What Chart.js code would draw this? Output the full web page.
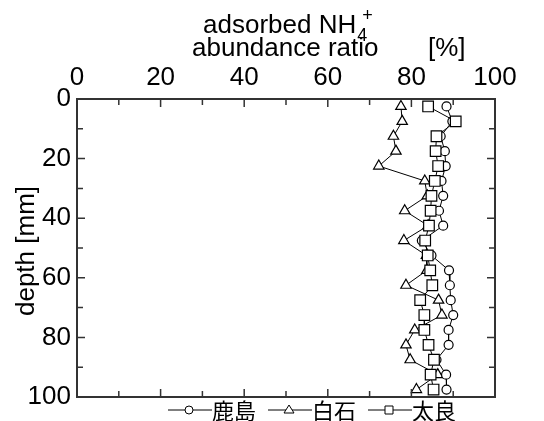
<!DOCTYPE html>
<html>
<head>
<meta charset="utf-8">
<script src="https://cdn.jsdelivr.net/npm/chart.js@4.4.1/dist/chart.umd.min.js"></script>
<style>
	body { margin: 0; background: #fff; }
	#wrap { width: 544px; height: 421px; }
</style>
</head>
<body>
<div id="wrap"><canvas id="graphique"></canvas></div>
<script>
const depth = [2.5, 7.5, 12.5, 17.5, 22.5, 27.5, 32.5, 37.5, 42.5, 47.5,
	52.5, 57.5, 62.5, 67.5, 72.5, 77.5, 82.5, 87.5, 92.5, 97.5];
const kashima = [88.4, 89.8, 87.0, 88.0, 88.2, 87.2, 87.6, 86.6, 87.6, 82.5,
	84.8, 89.0, 89.2, 89.4, 90.0, 88.9, 88.9, 86.0, 88.3, 88.4];
const shiraishi = [77.5, 77.8, 75.7, 76.3, 72.2, 83.2, 83.8, 78.4, 84.0, 78.2,
	83.6, 83.7, 78.7, 86.5, 87.3, 80.8, 78.7, 79.7, 86.3, 81.2];
const tara = [84.0, 90.6, 86.0, 85.8, 86.4, 85.6, 84.8, 84.6, 84.2, 83.3,
	83.9, 84.5, 85.0, 82.1, 83.1, 83.1, 84.1, 85.4, 84.6, 85.3];
const labels = ["鹿島", "白石", "太良"];
const ticksX = [0, 10, 20, 30, 40, 50, 60, 70, 80, 90, 100];
const ticksY = [0, 10, 20, 30, 40, 50, 60, 70, 80, 90, 100];

const police = '"Liberation Sans", Arial, sans-serif';

function points(values) {
	return values.map((v, i) => ({ x: v, y: depth[i] }));
}

function serie(label, values, style, radius, order) {
	return {
		label: label,
		data: points(values),
		showLine: true,
		borderColor: "#000",
		borderWidth: 1,
		pointStyle: style,
		pointRadius: radius,
		pointBackgroundColor: "#fff",
		pointBorderColor: "#000",
		pointBorderWidth: 1.2,
		order: order,
	};
}

function marqueur(ctx, style, x, y) {
	ctx.beginPath();
	if (style === "circle") {
		ctx.arc(x, y, 4, 0, Math.PI * 2);
	} else if (style === "triangle") {
		ctx.moveTo(x, y - 5);
		ctx.lineTo(x + 5, y + 3);
		ctx.lineTo(x - 5, y + 3);
		ctx.closePath();
	} else {
		ctx.rect(x - 4, y - 4, 8, 8);
	}
	ctx.fillStyle = "#fff";
	ctx.fill();
	ctx.stroke();
}

const cadre = {
	id: "cadre",
	afterDraw(chart) {
		const ctx = chart.ctx;
		const a = chart.chartArea;
		const sx = chart.scales.x;
		const sy = chart.scales.y;
		ctx.save();
		ctx.strokeStyle = "#333";
		ctx.lineWidth = 1.5;
		// graduations vers l'intérieur
		ctx.beginPath();
		for (const t of ticksX) {
			const px = sx.getPixelForValue(t);
			const l = t % 20 === 0 ? 8 : 6;
			ctx.moveTo(px, a.top); ctx.lineTo(px, a.top + l);
			ctx.moveTo(px, a.bottom); ctx.lineTo(px, a.bottom - l);
		}
		for (const t of ticksY) {
			const py = sy.getPixelForValue(t);
			const l = t % 20 === 0 ? 8 : 6;
			ctx.moveTo(a.left, py); ctx.lineTo(a.left + l, py);
			ctx.moveTo(a.right, py); ctx.lineTo(a.right - l, py);
		}
		ctx.stroke();
		ctx.lineWidth = 2;
		ctx.strokeRect(a.left, a.top, a.right - a.left, a.bottom - a.top);

		// titres
		ctx.fillStyle = "#000";
		ctx.textAlign = "left";
		ctx.textBaseline = "alphabetic";
		ctx.font = "26px " + police;
		const t1 = "adsorbed NH";
		ctx.fillText(t1, 203, 33);
		const w1 = ctx.measureText(t1).width;
		ctx.font = "18px " + police;
		ctx.fillText("4", 203 + w1 + 1, 41);
		ctx.fillText("+", 203 + w1 + 6, 21);
		ctx.font = "26px " + police;
		ctx.fillText("abundance ratio", 192, 56);
		ctx.fillText("[%]", 428, 56);

		ctx.save();
		ctx.translate(27, 251);
		ctx.rotate(-Math.PI / 2);
		ctx.textAlign = "center";
		ctx.textBaseline = "middle";
		ctx.fillText("depth [mm]", 0, 0);
		ctx.restore();

		// légende
		const styles = ["circle", "triangle", "rect"];
		const debut = [168, 268, 368];
		const ly = 410;
		ctx.strokeStyle = "#000";
		ctx.lineWidth = 1;
		ctx.font = '22px "Noto Sans CJK JP", sans-serif';
		ctx.textBaseline = "middle";
		for (let i = 0; i < styles.length; i++) {
			const x0 = debut[i];
			ctx.beginPath();
			ctx.moveTo(x0, ly);
			ctx.lineTo(x0 + 44, ly);
			ctx.stroke();
			marqueur(ctx, styles[i], x0 + 21, ly);
			ctx.fillStyle = "#000";
			ctx.fillText(labels[i], x0 + 44, ly + 1);
		}
		ctx.restore();
	},
};

const data = {
	datasets: [
		serie(labels[0], kashima, "circle", 4.5, 1),
		serie(labels[1], shiraishi, "triangle", 6, 2),
		serie(labels[2], tara, "rect", 7.5, 0),
	],
};

const config = {
	type: "scatter",
	data: data,
	options: {
		responsive: true,
		maintainAspectRatio: false,
		animation: false,
		layout: { padding: { left: 0, right: 49, top: 0, bottom: 24 } },
		plugins: { legend: { display: false }, tooltip: { enabled: false } },
		scales: {
			x: {
				type: "linear",
				position: "top",
				min: 0,
				max: 100,
				grid: { display: false, drawTicks: false },
				border: { display: false },
				ticks: { stepSize: 20, padding: 6, color: "#000", font: { family: police, size: 26 } },
				afterFit: (s) => { s.height = 99; },
			},
			y: {
				type: "linear",
				reverse: true,
				min: 0,
				max: 100,
				grid: { display: false, drawTicks: false },
				border: { display: false },
				ticks: { stepSize: 20, padding: 6, color: "#000", font: { family: police, size: 26 } },
				afterFit: (s) => { s.width = 77; },
			},
		},
	},
	plugins: [cadre],
};

const graphique = new Chart(document.querySelector("#graphique"), config);
</script>
</body>
</html>
